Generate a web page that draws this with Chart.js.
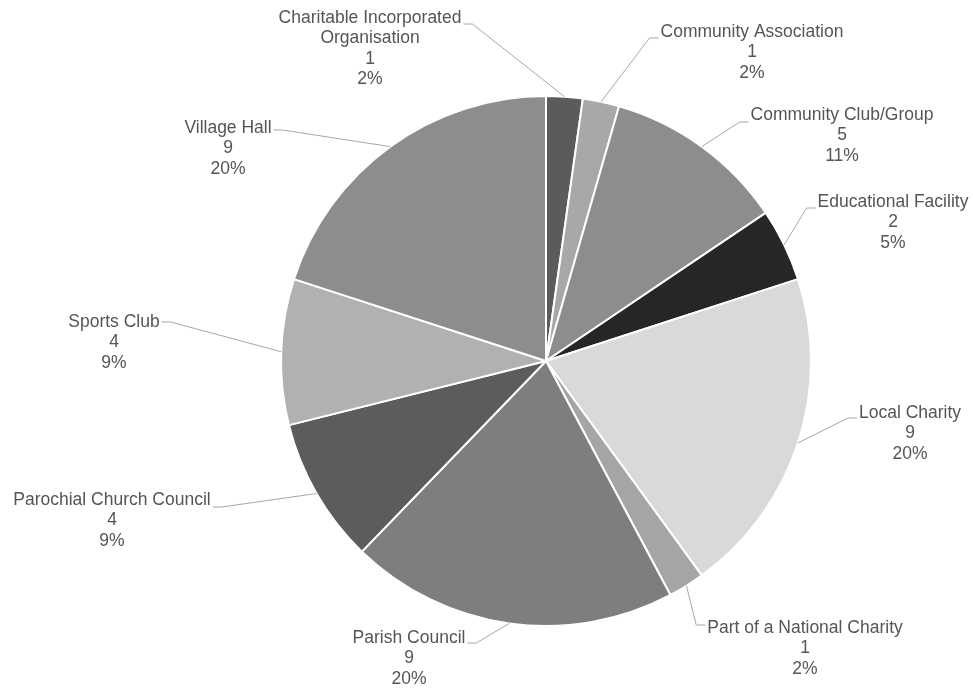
<!DOCTYPE html>
<html>
<head>
<meta charset="utf-8">
<script src="https://cdn.jsdelivr.net/npm/chart.js@4.4.0/dist/chart.umd.min.js"></script>
<style>
    html, body {
        margin: 0;
        padding: 0;
        background: #fff;
    }
    #wrap {
        width: 973px;
        height: 691px;
    }
</style>
</head>
<body>
<div id="wrap"><canvas id="orgPie" width="973" height="691"></canvas></div>

<script>
    const categories = [
        'Charitable Incorporated\nOrganisation',
        'Community Association',
        'Community Club/Group',
        'Educational Facility',
        'Local Charity',
        'Part of a National Charity',
        'Parish Council',
        'Parochial Church Council',
        'Sports Club',
        'Village Hall'
    ];
    const counts = [1, 1, 5, 2, 9, 1, 9, 4, 4, 9];
    const percents = ['2%', '2%', '11%', '5%', '20%', '2%', '20%', '9%', '9%', '20%'];
    const sliceColours = [
        '#5b5b5b', '#a8a8a8', '#8d8d8d', '#262626', '#d9d9d9',
        '#a5a5a5', '#7e7e7e', '#5c5c5c', '#b1b1b1', '#8d8d8d'
    ];

    // label blocks: centre x, first line y, side the leader joins, leader y offset
    const labelSpots = [
        [370, 18, 'right', 6],
        [752, 32, 'left', 6],
        [842, 115, 'left', 7],
        [893, 202, 'left', 6],
        [910, 413, 'left', 5],
        [805, 628, 'left', -3],
        [409, 638, 'right', 5],
        [112, 500, 'right', 7],
        [114, 322, 'right', 0],
        [228, 128, 'right', 2]
    ];

    const calloutPlugin = {
        id: 'callouts',
        afterDatasetsDraw(chart) {
            const ctx = chart.ctx;
            const arcs = chart.getDatasetMeta(0).data;
            ctx.save();
            ctx.font = '17.5px "Liberation Sans", Arial, sans-serif';
            ctx.textAlign = 'center';
            ctx.textBaseline = 'middle';
            arcs.forEach(function (arc, i) {
                const p = arc.getProps(['x', 'y', 'startAngle', 'endAngle', 'outerRadius'], true);
                const mid = (p.startAngle + p.endAngle) / 2;
                const px = p.x + Math.cos(mid) * p.outerRadius;
                const py = p.y + Math.sin(mid) * p.outerRadius;

                const [lx, ly, side, dy] = labelSpots[i];
                const lines = categories[i].split('\n').concat([String(counts[i]), percents[i]]);
                const w = ctx.measureText(lines[0]).width;
                const ex = side === 'right' ? lx + w / 2 + 2 : lx - w / 2 - 2;
                const elbow = side === 'right' ? ex + 9 : ex - 9;

                ctx.strokeStyle = '#a6a6a6';
                ctx.lineWidth = 1;
                ctx.beginPath();
                ctx.moveTo(px, py);
                ctx.lineTo(elbow, ly + dy);
                ctx.lineTo(ex, ly + dy);
                ctx.stroke();

                ctx.fillStyle = '#555555';
                lines.forEach(function (t, k) {
                    ctx.fillText(t, lx, ly + k * 20.5);
                });
            });
            ctx.restore();
        }
    };

    const ctx = document.getElementById('orgPie').getContext('2d');
    const orgPie = new Chart(ctx, {
        type: 'pie',
        data: {
            labels: categories,
            datasets: [{
                data: counts,
                backgroundColor: sliceColours,
                borderColor: '#ffffff',
                borderWidth: 2
            }]
        },
        options: {
            responsive: false,
            animation: false,
            layout: {
                padding: { top: 95, bottom: 64, left: 279, right: 160 }
            },
            plugins: {
                legend: { display: false },
                tooltip: { enabled: false }
            }
        },
        plugins: [calloutPlugin]
    });
</script>
</body>
</html>
